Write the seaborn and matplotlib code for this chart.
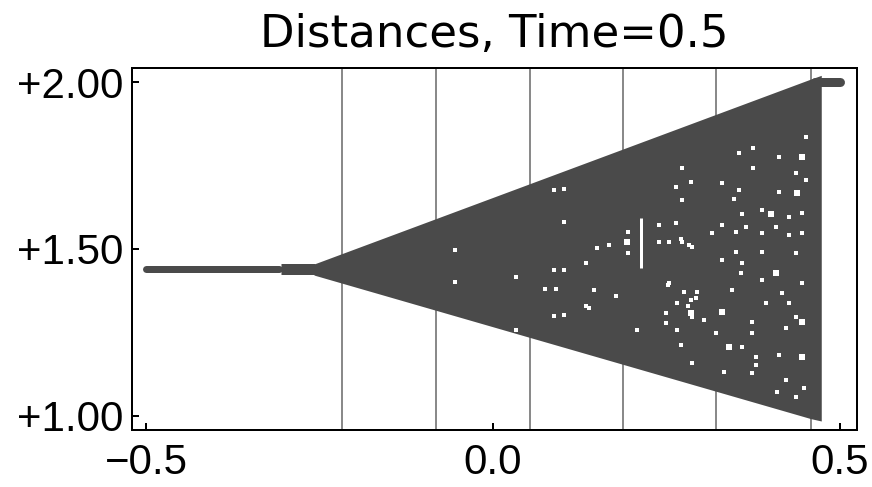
import numpy as np
import pandas as pd
import matplotlib
matplotlib.use("Agg")
import matplotlib.pyplot as plt
import seaborn as sns

# ---------------- data ----------------
title = "Distances, Time=0.5"
x_ticks = [-0.5, 0.0, 0.5]
x_tick_labels = ["\u22120.5", "0.0", "0.5"]
y_ticks = [1.0, 1.5, 2.0]
y_tick_labels = ["+1.00", "+1.50", "+2.00"]
grid_x = [-0.218, -0.082, 0.053, 0.187, 0.322, 0.458]

# flat run of points on the left, short thicker knee, stub at top right
flat_x = [-0.500, -0.308]
flat_y = [1.439, 1.439]
knee_x = [-0.306, -0.256]
knee_y = [1.439, 1.439]
stub_x = [0.464, 0.500]
stub_y = [2.0, 2.0]

# outer envelope of the dense wedge of points
wedge_x = [-0.258, 0.458, 0.473]
wedge_top = [1.455, 2.009, 2.020]
wedge_bottom = [1.422, 0.992, 0.985]

# empty spots inside the wedge
hole_x = [0.102, 0.102, 0.272, 0.264, 0.285, 0.272, 0.330, 0.354, 0.375, 0.412,
          0.451, 0.375, 0.437, 0.451, 0.354, 0.347, 0.412, 0.388, 0.427, 0.445,
          0.359, 0.330, 0.350, 0.365, 0.388, 0.408, 0.239, 0.264, 0.239, 0.272,
          0.287, 0.316, 0.350, 0.388, 0.427, 0.445,
          0.102, 0.102, 0.091, 0.134, 0.177, 0.138, 0.207, 0.254, 0.275, 0.265,
          0.293, 0.265, 0.271, 0.249, 0.249, 0.304, 0.321, 0.344, 0.359, 0.357,
          0.359, 0.373, 0.373, 0.393, 0.388, 0.416, 0.427, 0.445, 0.437, 0.422,
          0.412, 0.379, 0.379, 0.437, 0.330, 0.287, 0.333, 0.373, 0.422, 0.448,
          0.437, 0.409,
          -0.055, -0.055, 0.033, 0.033, 0.088, 0.088, 0.088, 0.075, 0.150, 0.195,
          0.195, 0.254, 0.271, 0.282, 0.252, 0.134, 0.167, 0.146, 0.285, 0.294,
          0.281, 0.287]
hole_y = [1.680, 1.581, 1.743, 1.686, 1.701, 1.647, 1.698, 1.787, 1.802, 1.775,
          1.835, 1.743, 1.728, 1.707, 1.677, 1.650, 1.671, 1.617, 1.596, 1.608,
          1.605, 1.572, 1.551, 1.566, 1.548, 1.566, 1.572, 1.578, 1.521, 1.521,
          1.506, 1.548, 1.491, 1.491, 1.542, 1.548,
          1.437, 1.302, 1.380, 1.458, 1.359, 1.323, 1.257, 1.398, 1.371, 1.338,
          1.353, 1.257, 1.213, 1.308, 1.278, 1.287, 1.249, 1.377, 1.458, 1.428,
          1.207, 1.281, 1.249, 1.338, 1.407, 1.368, 1.338, 1.398, 1.296, 1.263,
          1.183, 1.177, 1.153, 1.488, 1.467, 1.159, 1.132, 1.129, 1.108, 1.084,
          1.057, 1.072,
          1.497, 1.401, 1.416, 1.257, 1.677, 1.437, 1.299, 1.380, 1.503, 1.551,
          1.488, 1.521, 1.530, 1.512, 1.392, 1.329, 1.512, 1.377, 1.347, 1.371,
          1.329, 1.296]
big_hole_x = [0.445, 0.438, 0.401, 0.193, 0.285, 0.330, 0.340, 0.408, 0.445, 0.445]
big_hole_y = [1.775, 1.668, 1.605, 1.521, 1.308, 1.311, 1.207, 1.428, 1.281, 1.177]
streak_x = 0.213
streak_y = [1.443, 1.593]

# ---------------- styling ----------------
W, H, DPI = 872, 487, 100
PX = 72.0 / DPI          # points per pixel
DARK = "#4a4a4a"
GRID = "#8a8a8a"

sns.set_theme(style="white")
plt.rcParams["font.family"] = ["Liberation Sans", "DejaVu Sans"]

fig = plt.figure(figsize=(W / DPI, H / DPI), dpi=DPI)
ax = fig.add_axes([132 / W, 1 - 430 / H, (857 - 132) / W, (430 - 68) / H])

ax.set_xlim(-0.5202, 0.5245)
ax.set_ylim(0.958, 2.042)

for gx in grid_x:
    ax.axvline(gx, color=GRID, lw=2 * PX, zorder=1)

# dense wedge
ax.fill_between(wedge_x, wedge_bottom, wedge_top, color=DARK, lw=0, zorder=2)

df_flat = pd.DataFrame({"x": flat_x, "y": flat_y})
sns.lineplot(data=df_flat, x="x", y="y", ax=ax, color=DARK, lw=7 * PX,
             solid_capstyle="round", zorder=2)
df_knee = pd.DataFrame({"x": knee_x, "y": knee_y})
sns.lineplot(data=df_knee, x="x", y="y", ax=ax, color=DARK, lw=11 * PX,
             solid_capstyle="butt", zorder=2)
df_stub = pd.DataFrame({"x": stub_x, "y": stub_y})
sns.lineplot(data=df_stub, x="x", y="y", ax=ax, color=DARK, lw=9 * PX,
             solid_capstyle="round", zorder=2)

# holes
df_h = pd.DataFrame({"x": hole_x, "y": hole_y})
sns.scatterplot(data=df_h, x="x", y="y", ax=ax, marker="s", color="white",
                s=(3.8 * PX) ** 2, linewidth=0, zorder=3)
df_bh = pd.DataFrame({"x": big_hole_x, "y": big_hole_y})
sns.scatterplot(data=df_bh, x="x", y="y", ax=ax, marker="s", color="white",
                s=(6.5 * PX) ** 2, linewidth=0, zorder=3)
ax.vlines(streak_x, streak_y[0], streak_y[1], color="white", lw=3 * PX, zorder=3)

# axes cosmetics
ax.set_xlabel("")
ax.set_ylabel("")
for s in ax.spines.values():
    s.set_visible(True)
    s.set_color("black")
    s.set_linewidth(2 * PX)
    s.set_zorder(5)

ax.set_xticks(x_ticks)
ax.set_xticklabels(x_tick_labels)
ax.set_yticks(y_ticks)
ax.set_yticklabels(y_tick_labels)
ax.tick_params(axis="both", direction="in", length=7 * PX, width=2 * PX,
               color="black", labelsize=42 * PX, labelcolor="black")
ax.tick_params(axis="x", pad=9, bottom=True, top=False)
ax.tick_params(axis="y", pad=6.5, left=True, right=False)
ax.grid(False)

ax.set_title(title, fontsize=45 * PX, family=["DejaVu Sans"], color="black",
             pad=15)

fig.savefig("out.png", dpi=DPI, facecolor="white")
